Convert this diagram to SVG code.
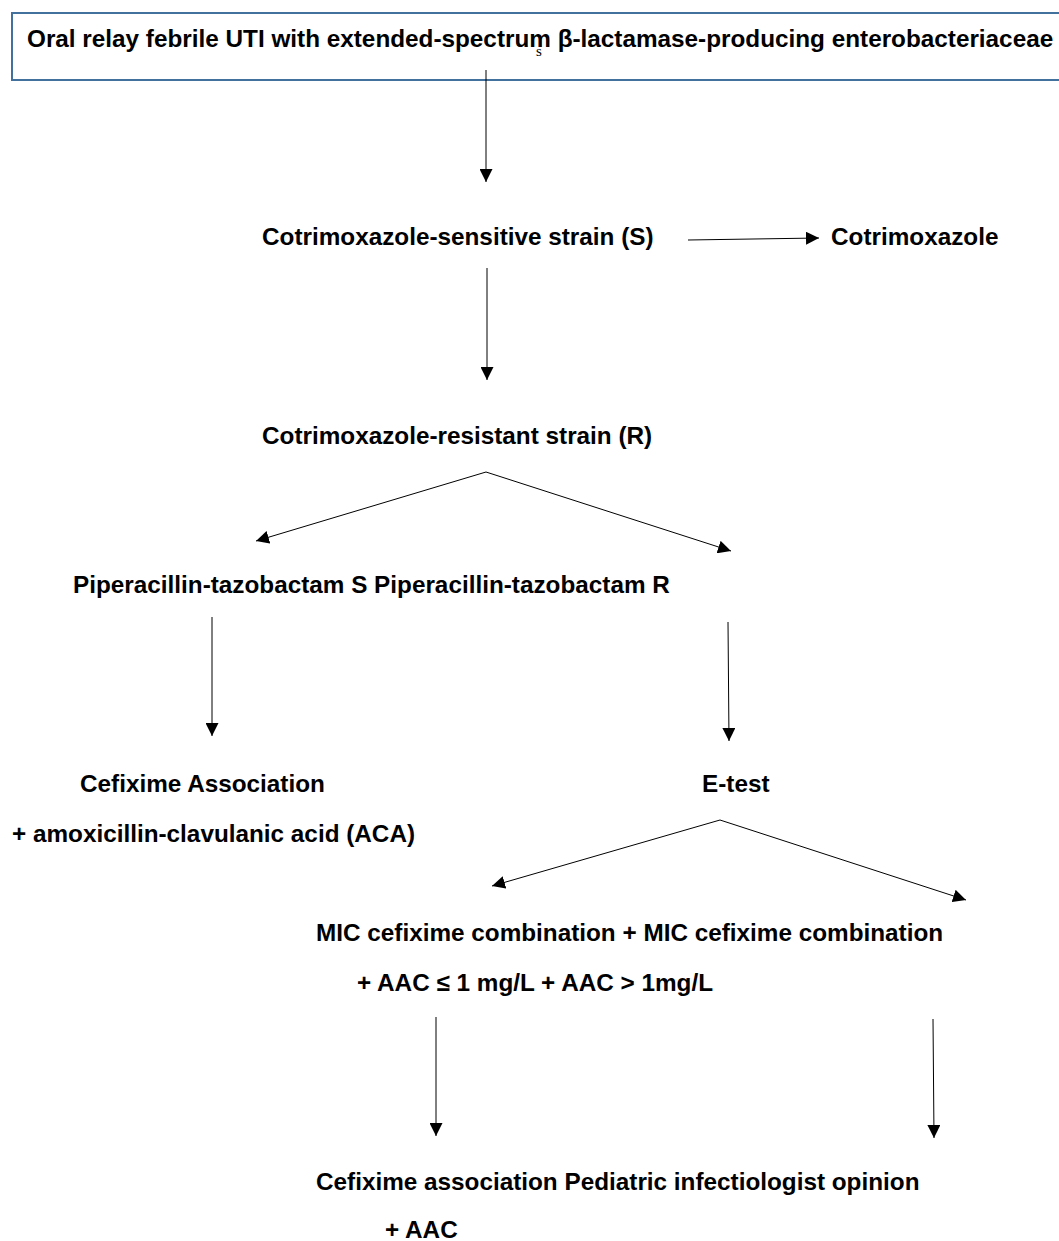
<svg xmlns="http://www.w3.org/2000/svg" width="1059" height="1241" viewBox="0 0 1059 1241">
<style>
.t{font-family:"Liberation Sans",Arial,sans-serif;font-weight:bold;font-size:24.3px;fill:#000}
.c{stroke:#000;stroke-width:1;fill:none}
</style>
<defs>
<marker id="ah" viewBox="0 0 10 10" refX="10" refY="5" markerWidth="13" markerHeight="13" markerUnits="userSpaceOnUse" orient="auto">
<path d="M0,0 L10,5 L0,10 z" fill="#000"/>
</marker>
</defs>
<rect width="1059" height="1241" fill="#fff"/>
<g id="n-title">
<rect x="12" y="13" width="1060" height="67" fill="none" stroke="#41719C" stroke-width="2"/>
<text class="t" x="27" y="47">Oral relay febrile UTI with extended-spectrum β-lactamase-producing enterobacteriaceae</text>
<text x="536" y="56" font-family="Liberation Serif,serif" font-size="15" fill="#000">s</text>
</g>
<g id="n-sens"><text class="t" x="262" y="245">Cotrimoxazole-sensitive strain (S)</text></g>
<g id="n-cotri"><text class="t" x="831" y="245">Cotrimoxazole</text></g>
<g id="n-res"><text class="t" x="262" y="444">Cotrimoxazole-resistant strain (R)</text></g>
<g id="n-pip"><text class="t" x="73" y="593">Piperacillin-tazobactam S Piperacillin-tazobactam R</text></g>
<g id="n-cefassoc"><text class="t" x="80" y="792">Cefixime Association</text><text class="t" x="12" y="842">+ amoxicillin-clavulanic acid (ACA)</text></g>
<g id="n-etest"><text class="t" x="702" y="792">E-test</text></g>
<g id="n-mic"><text class="t" x="316" y="941">MIC cefixime combination + MIC cefixime combination</text><text class="t" x="357" y="991">+ AAC ≤ 1 mg/L + AAC &gt; 1mg/L</text></g>
<g id="n-final"><text class="t" x="316" y="1190">Cefixime association Pediatric infectiologist opinion</text><text class="t" x="385" y="1238">+ AAC</text></g>
<g id="connectors" class="c">
<line x1="486" y1="70" x2="486" y2="182" marker-end="url(#ah)"/>
<line x1="688" y1="240" x2="819" y2="238" marker-end="url(#ah)"/>
<line x1="487" y1="268" x2="487" y2="380" marker-end="url(#ah)"/>
<line x1="486" y1="472" x2="256" y2="541" marker-end="url(#ah)"/>
<line x1="486" y1="472" x2="731" y2="551" marker-end="url(#ah)"/>
<line x1="212" y1="617" x2="212" y2="736" marker-end="url(#ah)"/>
<line x1="728" y1="622" x2="729" y2="741" marker-end="url(#ah)"/>
<line x1="720" y1="820" x2="492" y2="886" marker-end="url(#ah)"/>
<line x1="720" y1="820" x2="966" y2="900" marker-end="url(#ah)"/>
<line x1="436" y1="1017" x2="436" y2="1136" marker-end="url(#ah)"/>
<line x1="933" y1="1019" x2="934" y2="1138" marker-end="url(#ah)"/>
</g>
</svg>
